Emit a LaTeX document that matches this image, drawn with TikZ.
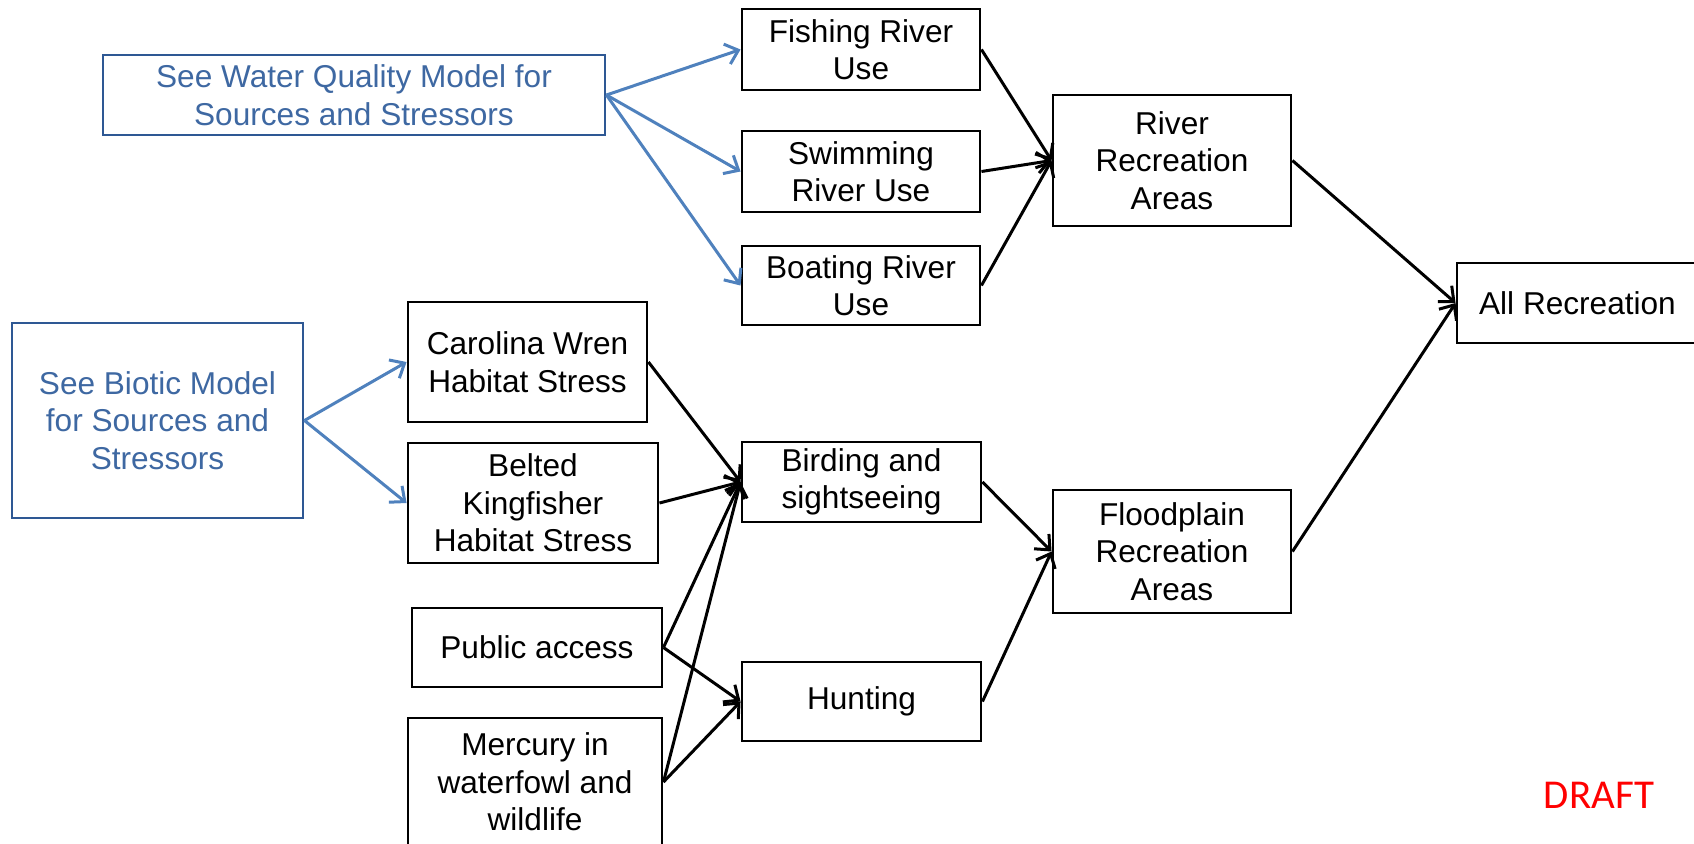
\documentclass[tikz,border=0pt]{standalone}
\usepackage{fontspec}
\setmainfont{Liberation Sans}
\newfontfamily\draftfont{Carlito}
\usetikzlibrary{arrows.meta}

\definecolor{modelframe}{RGB}{46,88,148}
\definecolor{modeltext}{RGB}{62,104,162}
\definecolor{modellink}{RGB}{79,129,189}
\definecolor{draftred}{RGB}{255,0,0}

% box placed by its corners (x1,y1)-(x2,y2), in pixel units
\newcommand\placebox[7][]{%
  \node[box,#1,minimum width={(#5-#3)*0.5pt},minimum height={(#6-#4)*0.5pt}]
    (#2) at ({(#3+#5)/2},{(#4+#6)/2}) {#7};}

\tikzset{
  box/.style={draw=black, line width=1.45pt, rectangle, inner sep=0pt,
    align=center, font=\fontsize{15.8pt}{18.75pt}\selectfont, text=black},
  modelbox/.style={draw=modelframe, text=modeltext},
  link/.style={draw=black, line width=1.5pt,
    -{Straight Barb[length=6pt,width=10.5pt,line width=1.5pt]}},
  modellinkstyle/.style={link, draw=modellink},
}

\begin{document}
\begin{tikzpicture}[x=0.5pt,y=-0.5pt]
\useasboundingbox (0,0) rectangle (1694,843);
\clip (0,0) rectangle (1694,843);

% source models
\placebox[modelbox]{wq}{103}{55}{605}{135}{See Water Quality Model for\\Sources and Stressors}
\placebox[modelbox]{biotic}{12}{323}{303}{518}{See Biotic Model\\for Sources and\\Stressors}

% river uses
\placebox{fish}{742}{9}{980}{90}{Fishing River\\Use}
\placebox{swim}{742}{131}{980}{212}{Swimming\\River Use}
\placebox{boat}{742}{246}{980}{325}{Boating River\\Use}

% floodplain inputs
\placebox{wren}{408}{302}{647}{422}{Carolina Wren\\Habitat Stress}
\placebox{belted}{408}{443}{658}{563}{Belted\\Kingfisher\\Habitat Stress}
\placebox{public}{412}{608}{662}{687}{Public access}
\placebox{mercury}{408}{718}{662}{846}{Mercury in\\waterfowl and\\wildlife}

% floodplain uses
\placebox{birding}{742}{442}{981}{522}{Birding and\\sightseeing}
\placebox{hunting}{742}{662}{981}{741}{Hunting}

% recreation areas
\placebox{river}{1053}{95}{1291}{226}{River\\Recreation\\Areas}
\placebox{flood}{1053}{490}{1291}{613}{Floodplain\\Recreation\\Areas}
\placebox{allrec}{1457}{263}{1698}{343}{All Recreation}

\node[font=\draftfont\fontsize{20.5pt}{24pt}\selectfont, text=draftred] (draft) at (1599,795) {DRAFT};

% links from the source models
\draw[modellinkstyle] (wq.east) -- (fish.west);
\draw[modellinkstyle] (wq.east) -- (swim.west);
\draw[modellinkstyle] (wq.east) -- (boat.west);
\draw[modellinkstyle] (biotic.east) -- (wren.west);
\draw[modellinkstyle] (biotic.east) -- (belted.west);

% river branch
\draw[link] (fish.east) -- (river.west);
\draw[link] (swim.east) -- (river.west);
\draw[link] (boat.east) -- (river.west);

% floodplain branch
\draw[link] (wren.east) -- (birding.west);
\draw[link] (belted.east) -- (birding.west);
\draw[link] (public.east) -- (birding.west);
\draw[link] (mercury.east) -- (birding.west);
\draw[link] (public.east) -- (hunting.west);
\draw[link] (mercury.east) -- (hunting.west);
\draw[link] (birding.east) -- (flood.west);
\draw[link] (hunting.east) -- (flood.west);

% totals
\draw[link] (river.east) -- (allrec.west);
\draw[link] (flood.east) -- (allrec.west);
\end{tikzpicture}
\end{document}
